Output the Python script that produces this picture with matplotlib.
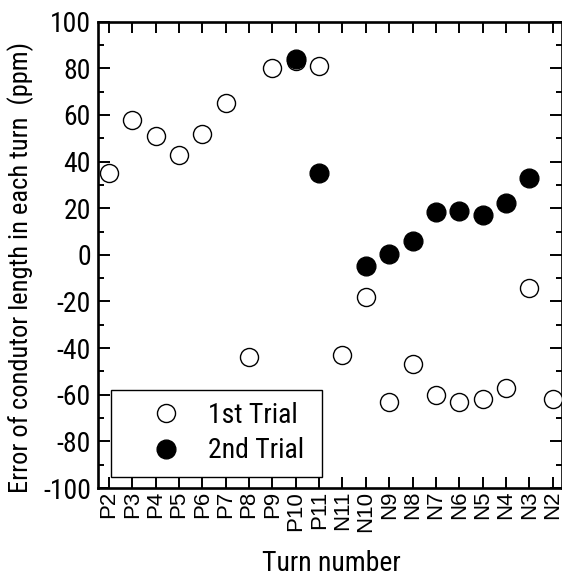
"""Error of conductor length per turn, two trials."""

import matplotlib
matplotlib.use("Agg")
import matplotlib.pyplot as plt
from matplotlib.ticker import MultipleLocator
import numpy as np

plt.rcParams["font.family"] = ["Roboto Condensed", "DejaVu Sans"]

TURNS = ["P2", "P3", "P4", "P5", "P6", "P7", "P8", "P9", "P10", "P11",
         "N11", "N10", "N9", "N8", "N7", "N6", "N5", "N4", "N3", "N2"]

TRIAL1 = [35, 58, 51, 43, 52, 65, -44, 80, 83, 81,
          -43, -18, -63, -47, -60, -63, -62, -57, -14, -62]

# second trial only measured from P10 onward (N11 and N2 missing)
TRIAL2_TURNS = ["P10", "P11", "N10", "N9", "N8", "N7", "N6", "N5", "N4", "N3"]
TRIAL2 = [84, 35, -4.6, 0.4, 6, 18.4, 19, 17, 22.3, 33]

YTICKS = [-100, -80, -60, -40, -20, 0, 20, 40, 60, 80, 100]


def main() -> None:
    fig = plt.figure(figsize=(5.62, 5.77), dpi=100)
    ax = fig.add_axes([0.1744, 0.1542, 0.8256, 0.8082])

    x1 = np.arange(len(TURNS))
    x2 = [TURNS.index(t) for t in TRIAL2_TURNS]

    ax.plot(x1, TRIAL1, "o", ms=13, mfc="white", mec="black", mew=1.0,
            ls="none", label="1st Trial", zorder=3)
    ax.plot(x2, TRIAL2, "o", ms=13.5, mfc="black", mec="black", mew=1.0,
            ls="none", label="2nd Trial", zorder=4)

    ax.set_xlim(-0.47, 19.4)
    ax.set_ylim(-100, 100)
    ax.set_xticks(x1)
    ax.set_xticklabels(TURNS, rotation=90, family=["Liberation Sans", "DejaVu Sans"],
                       fontsize=16)
    ax.set_yticks(YTICKS)
    ax.set_yticklabels([str(v) for v in YTICKS], fontsize=20)
    ax.yaxis.set_minor_locator(MultipleLocator(10))

    ax.tick_params(axis="both", which="both", direction="in", top=True, right=True,
                   width=1.4, colors="black")
    ax.tick_params(axis="y", which="major", length=8.5, pad=5)
    ax.tick_params(axis="y", which="minor", length=4.3)
    ax.tick_params(axis="x", which="major", length=8, pad=2)

    for side in ["left", "bottom", "top", "right"]:
        ax.spines[side].set_linewidth(1.9)

    ax.set_ylabel("Error of condutor length in each turn  (ppm)", fontsize=19)
    ax.yaxis.set_label_coords(-0.138, 0.474)
    ax.set_xlabel("Turn number", fontsize=20)
    ax.xaxis.set_label_coords(0.502, -0.133)

    leg = ax.legend(loc="lower left", bbox_to_anchor=(0.028, 0.024, 0.455, 0.186),
                    mode="expand", fontsize=20, frameon=True, fancybox=False,
                    borderpad=0.45, handletextpad=0.0, labelspacing=0.3,
                    borderaxespad=0, handlelength=3.05)
    leg.get_frame().set_edgecolor("black")
    leg.get_frame().set_linewidth(1.0)
    leg.get_frame().set_alpha(1)

    fig.savefig("out.png", dpi=100)
    plt.close(fig)


if __name__ == "__main__":
    main()
